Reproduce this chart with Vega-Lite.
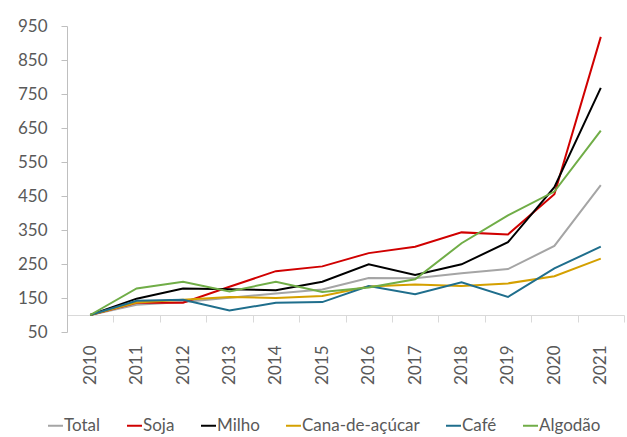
{
  "$schema": "https://vega.github.io/schema/vega-lite/v6.json",
  "width": 557,
  "height": 306,
  "autosize": {"type": "none"},
  "padding": {"left": 67, "top": 26, "right": 3, "bottom": 105},
  "background": "white",
  "config": {
    "view": {"stroke": null},
    "font": "Lato",
    "axis": {"labelFont": "Lato", "labelFontSize": 17, "labelColor": "#595959", "domainColor": "#BFBFBF", "tickColor": "#BFBFBF", "grid": false, "title": null},
    "legend": {"labelFont": "Lato", "labelFontSize": 17, "labelColor": "#595959"}
  },
  "data": {"values": [
    {"year": "2010", "series": "Total", "value": 100},
    {"year": "2011", "series": "Total", "value": 130},
    {"year": "2012", "series": "Total", "value": 138},
    {"year": "2013", "series": "Total", "value": 151},
    {"year": "2014", "series": "Total", "value": 163},
    {"year": "2015", "series": "Total", "value": 175},
    {"year": "2016", "series": "Total", "value": 209},
    {"year": "2017", "series": "Total", "value": 208},
    {"year": "2018", "series": "Total", "value": 223},
    {"year": "2019", "series": "Total", "value": 235},
    {"year": "2020", "series": "Total", "value": 303},
    {"year": "2021", "series": "Total", "value": 482},
    {"year": "2010", "series": "Soja", "value": 100},
    {"year": "2011", "series": "Soja", "value": 136},
    {"year": "2012", "series": "Soja", "value": 136},
    {"year": "2013", "series": "Soja", "value": 183},
    {"year": "2014", "series": "Soja", "value": 229},
    {"year": "2015", "series": "Soja", "value": 243},
    {"year": "2016", "series": "Soja", "value": 282},
    {"year": "2017", "series": "Soja", "value": 301},
    {"year": "2018", "series": "Soja", "value": 343},
    {"year": "2019", "series": "Soja", "value": 337},
    {"year": "2020", "series": "Soja", "value": 455},
    {"year": "2021", "series": "Soja", "value": 918},
    {"year": "2010", "series": "Milho", "value": 100},
    {"year": "2011", "series": "Milho", "value": 148},
    {"year": "2012", "series": "Milho", "value": 178},
    {"year": "2013", "series": "Milho", "value": 176},
    {"year": "2014", "series": "Milho", "value": 173},
    {"year": "2015", "series": "Milho", "value": 198},
    {"year": "2016", "series": "Milho", "value": 249},
    {"year": "2017", "series": "Milho", "value": 218},
    {"year": "2018", "series": "Milho", "value": 249},
    {"year": "2019", "series": "Milho", "value": 314},
    {"year": "2020", "series": "Milho", "value": 476},
    {"year": "2021", "series": "Milho", "value": 768},
    {"year": "2010", "series": "Cana-de-açúcar", "value": 100},
    {"year": "2011", "series": "Cana-de-açúcar", "value": 137},
    {"year": "2012", "series": "Cana-de-açúcar", "value": 145},
    {"year": "2013", "series": "Cana-de-açúcar", "value": 153},
    {"year": "2014", "series": "Cana-de-açúcar", "value": 150},
    {"year": "2015", "series": "Cana-de-açúcar", "value": 156},
    {"year": "2016", "series": "Cana-de-açúcar", "value": 184},
    {"year": "2017", "series": "Cana-de-açúcar", "value": 190},
    {"year": "2018", "series": "Cana-de-açúcar", "value": 185},
    {"year": "2019", "series": "Cana-de-açúcar", "value": 193},
    {"year": "2020", "series": "Cana-de-açúcar", "value": 214},
    {"year": "2021", "series": "Cana-de-açúcar", "value": 266},
    {"year": "2010", "series": "Café", "value": 100},
    {"year": "2011", "series": "Café", "value": 142},
    {"year": "2012", "series": "Café", "value": 145},
    {"year": "2013", "series": "Café", "value": 113},
    {"year": "2014", "series": "Café", "value": 136},
    {"year": "2015", "series": "Café", "value": 138},
    {"year": "2016", "series": "Café", "value": 185},
    {"year": "2017", "series": "Café", "value": 161},
    {"year": "2018", "series": "Café", "value": 196},
    {"year": "2019", "series": "Café", "value": 153},
    {"year": "2020", "series": "Café", "value": 237},
    {"year": "2021", "series": "Café", "value": 301},
    {"year": "2010", "series": "Algodão", "value": 100},
    {"year": "2011", "series": "Algodão", "value": 178},
    {"year": "2012", "series": "Algodão", "value": 198},
    {"year": "2013", "series": "Algodão", "value": 169},
    {"year": "2014", "series": "Algodão", "value": 198},
    {"year": "2015", "series": "Algodão", "value": 168},
    {"year": "2016", "series": "Algodão", "value": 181},
    {"year": "2017", "series": "Algodão", "value": 205},
    {"year": "2018", "series": "Algodão", "value": 311},
    {"year": "2019", "series": "Algodão", "value": 393},
    {"year": "2020", "series": "Algodão", "value": 463},
    {"year": "2021", "series": "Algodão", "value": 642}
  ]},
  "mark": {"type": "line", "strokeWidth": 2},
  "encoding": {
    "x": {
      "field": "year", "type": "ordinal", "bandPosition": 0.5,
      "scale": {"type": "band", "paddingInner": 0, "paddingOuter": 0},
      "axis": {"offset": -17, "tickBand": "extent", "tickSize": 7, "labelAngle": 270, "labelAlign": "right", "labelBaseline": "middle", "labelPadding": 23, "domainColor": "#D9D9D9", "tickColor": "#D9D9D9"}
    },
    "y": {
      "field": "value", "type": "quantitative",
      "scale": {"domain": [50, 950], "nice": false, "zero": false},
      "axis": {"values": [50, 150, 250, 350, 450, 550, 650, 750, 850, 950], "tickSize": 6, "labelPadding": 14}
    },
    "color": {
      "field": "series", "type": "nominal",
      "scale": {"domain": ["Total", "Soja", "Milho", "Cana-de-açúcar", "Café", "Algodão"], "range": ["#A5A5A5", "#D00000", "#000000", "#D4A000", "#1F6E8C", "#70AD47"]},
      "legend": {"title": null, "orient": "none", "direction": "horizontal", "legendX": -20, "legendY": 391, "symbolType": "stroke", "symbolSize": 225, "symbolStrokeWidth": 2, "labelOffset": 0, "columnPadding": 22}
    },
    "order": {"field": "series"}
  }
}
